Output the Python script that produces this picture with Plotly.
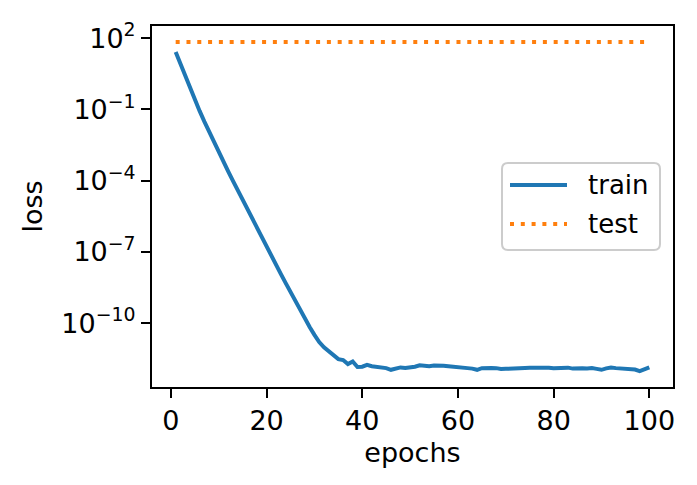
import plotly.graph_objects as go

# ---- data ----
epochs = list(range(1, 101))
train_log10 = [
    1.42, 0.90, 0.39, -0.11, -0.59, -1.06, -1.51, -1.95, -2.38, -2.80,
    -3.21, -3.62, -4.02, -4.42, -4.82, -5.21, -5.60, -5.99, -6.38, -6.77,
    -7.16, -7.55, -7.94, -8.32, -8.70, -9.08, -9.45, -9.82, -10.17, -10.50,
    -10.80, -11.02, -11.20, -11.38, -11.52, -11.56, -11.73, -11.62, -11.85, -11.84,
    -11.76, -11.82, -11.85, -11.85, -11.90, -11.97, -11.92, -11.87, -11.89, -11.88,
    -11.84, -11.78, -11.80, -11.82, -11.79, -11.78, -11.80, -11.82, -11.85, -11.88,
    -11.88, -11.90, -11.92, -11.97, -11.90, -11.88, -11.89, -11.90, -11.94, -11.93,
    -11.91, -11.90, -11.90, -11.89, -11.88, -11.87, -11.88, -11.89, -11.88, -11.90,
    -11.89, -11.85, -11.88, -11.92, -11.90, -11.91, -11.92, -11.90, -11.93, -11.97,
    -11.91, -11.87, -11.90, -11.92, -11.92, -11.93, -11.96, -12.03, -11.97, -11.87,
]
test_log10 = [1.84] * 100
x_ticks = [0, 20, 40, 60, 80, 100]
y_tick_vals = [1e2, 1e-1, 1e-4, 1e-7, 1e-10]
y_tick_text = ["10<sup>2</sup>", "10<sup>−1</sup>", "10<sup>−4</sup>",
               "10<sup>−7</sup>", "10<sup>−10</sup>"]
series_names = ["train", "test"]

train = [10 ** v for v in train_log10]
test = [10 ** v for v in test_log10]

BLUE = "#1f77b4"
ORANGE = "#ff7f0e"
FONT = "DejaVu Sans"
FS = 27

W, H = 697, 485
L, R, T, B = 152, 24, 26, 98
PW, PH = W - L - R, H - T - B


def px(x):
    return (x - L) / PW


def py(y):
    return (H - B - y) / PH


fig = go.Figure()
fig.add_trace(go.Scatter(x=epochs, y=train, mode="lines", name=series_names[0],
                         line=dict(color=BLUE, width=4)))
fig.add_trace(go.Scatter(x=epochs, y=test, mode="lines", name=series_names[1],
                         line=dict(color=ORANGE, width=4, dash="4px,6.8px")))

# custom matplotlib-like legend
x0, x1, y0, y1, r = 502, 660, 163, 250, 6
path = (f"M{px(x0 + r)},{py(y0)} L{px(x1 - r)},{py(y0)} "
        f"Q{px(x1)},{py(y0)} {px(x1)},{py(y0 + r)} "
        f"L{px(x1)},{py(y1 - r)} Q{px(x1)},{py(y1)} {px(x1 - r)},{py(y1)} "
        f"L{px(x0 + r)},{py(y1)} Q{px(x0)},{py(y1)} {px(x0)},{py(y1 - r)} "
        f"L{px(x0)},{py(y0 + r)} Q{px(x0)},{py(y0)} {px(x0 + r)},{py(y0)} Z")
shapes = [
    dict(type="path", xref="paper", yref="paper", path=path,
         fillcolor="rgba(255,255,255,0.8)", line=dict(color="#cccccc", width=2)),
    dict(type="line", xref="paper", yref="paper", x0=px(510), x1=px(567),
         y0=py(185), y1=py(185), line=dict(color=BLUE, width=4)),
    dict(type="line", xref="paper", yref="paper", x0=px(510), x1=px(567),
         y0=py(224), y1=py(224), line=dict(color=ORANGE, width=4, dash="4px,6.8px")),
]
annotations = [
    dict(xref="paper", yref="paper", x=px(586), y=py(185), text=series_names[0],
         showarrow=False, xanchor="left", yanchor="middle",
         font=dict(family=FONT, size=26, color="black")),
    dict(xref="paper", yref="paper", x=px(586), y=py(224), text=series_names[1],
         showarrow=False, xanchor="left", yanchor="middle",
         font=dict(family=FONT, size=26, color="black")),
]

fig.update_layout(
    width=W, height=H,
    margin=dict(l=L, r=R, t=T, b=B, pad=0),
    paper_bgcolor="white", plot_bgcolor="white",
    showlegend=False,
    font=dict(family=FONT, size=FS, color="black"),
    shapes=shapes, annotations=annotations,
    xaxis=dict(
        range=[-3.95, 104.95], tickvals=x_ticks, ticks="outside", ticklen=9,
        tickwidth=2, tickcolor="black", showgrid=False, zeroline=False,
        showline=True, linecolor="black", linewidth=2, mirror=True,
        title=dict(text="epochs", standoff=8, font=dict(size=FS)),
        tickfont=dict(size=FS),
    ),
    yaxis=dict(
        type="log", range=[-12.695, 2.518], tickvals=y_tick_vals,
        ticktext=y_tick_text, ticks="outside", ticklen=9, tickwidth=2,
        tickcolor="black", showgrid=False, zeroline=False, showline=True,
        linecolor="black", linewidth=2, mirror=True,
        title=dict(text="loss", standoff=11, font=dict(size=FS)),
        tickfont=dict(size=FS),
    ),
)

fig.write_html("out.html")
